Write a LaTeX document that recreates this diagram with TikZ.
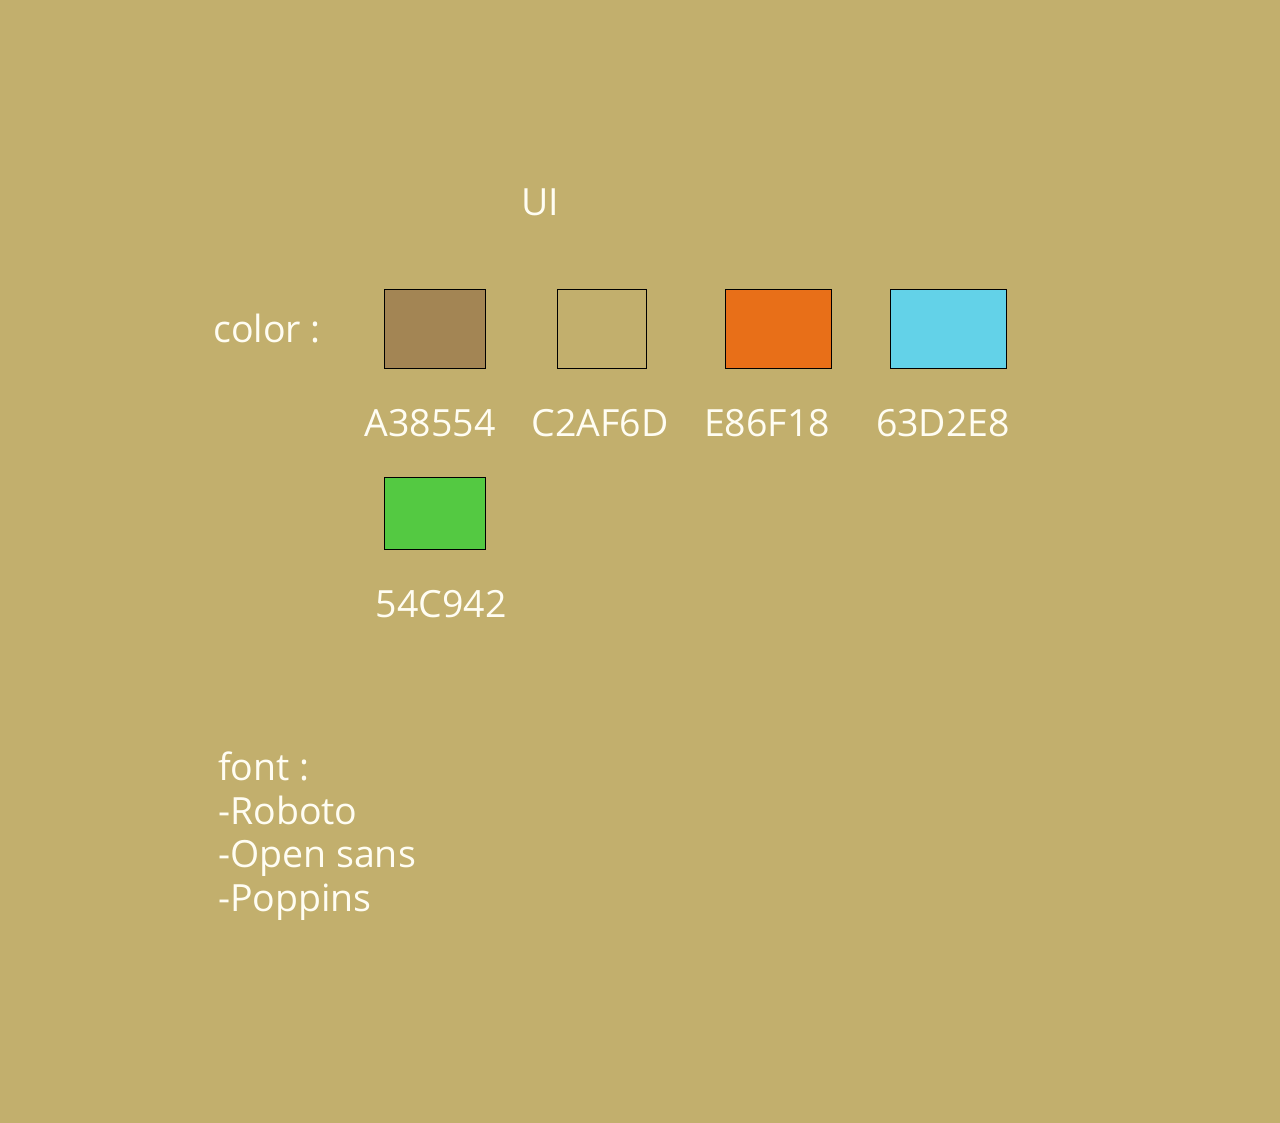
\documentclass[tikz,border=0pt]{standalone}
\usepackage{fontspec}
\setmainfont{Open Sans}
\usepackage{xcolor}
\usepackage{tikz}
\usetikzlibrary{calc}

\definecolor{sand}{HTML}{C2AF6D}
\definecolor{inktext}{HTML}{FFFDF2}

\tikzset{
	swatch/.style={draw=black, line width=0.7pt, inner sep=0pt, outer sep=0pt},
	plain/.style={text=inktext, inner sep=0pt, font=\fontsize{37.5}{43.5}\selectfont}
}

\begin{document}
\begin{tikzpicture}[x=1pt, y=-1pt]
	\useasboundingbox (0,0) rectangle (1280,1123);
	
	% Fond
	\fill[sand] (0,0) rectangle (1280,1123);
	
	% Titres
	\node[plain, anchor=base] (title) at (540,216) {UI};
	\node[plain, anchor=base west] (colorhead) at (213,343) {color :};
	
	% Echantillons
	\foreach \hex/\cx/\cy/\w/\h/\lx/\ly in
	{A38554/435/328.5/101/79/430/436,
	 C2AF6D/601.5/328.5/89/79/600/436,
	 E86F18/778/328.5/106/79/767/436,
	 63D2E8/948/328.5/116/79/943/436,
	 54C942/435/513/101/72/441/617}
	{
	\definecolor{swatchfill}{HTML}{\hex}
	\node[swatch, fill=swatchfill, minimum width=\w, minimum height=\h] (box\hex) at (\cx,\cy) {};
	\node[plain, anchor=base] (label\hex) at (\lx,\ly) {\hex};
	}
	
	% Polices
	\node[plain, anchor=base west, align=left] (fonts) at (218,911)
	{font :\\-Roboto\\-Open sans\\-Poppins};
	
\end{tikzpicture}
\end{document}
